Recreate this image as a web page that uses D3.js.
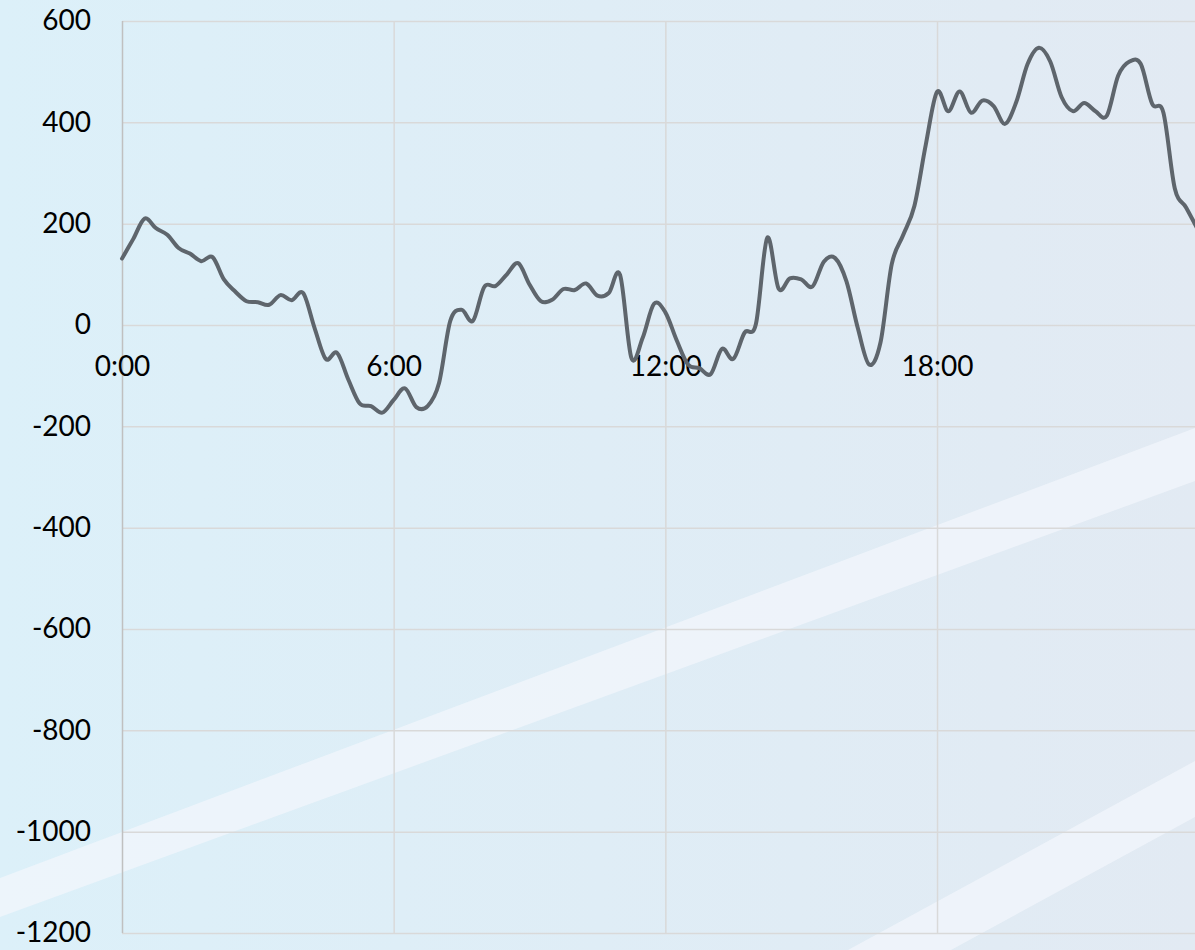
<!DOCTYPE html>
<html>
<head>
<meta charset="utf-8">
<script src="https://cdn.jsdelivr.net/npm/d3@7"></script>
<style>
  html, body { margin: 0; padding: 0; overflow: hidden; background: #dff0f9; }
  svg { display: block; }
  text { font-family: Lato, "Open Sans", sans-serif; }
</style>
</head>
<body>
<svg id="chart" width="1195" height="950"></svg>
<script>
// ---- data (15-minute readings, starting 0:00) ----
const stepHours = 0.25;
const values = [
  131, 170, 210, 191, 178, 152, 141, 126, 134, 90, 66, 47,
  45, 40, 59, 49, 63, -5, -67, -55, -108, -155, -160, -173,
  -148, -125, -162, -160, -115, 8, 30, 8, 75, 77, 100, 122,
  80, 47, 50, 71, 69, 82, 58, 63, 99, -65, -25, 42,
  25, -30, -78, -85, -97, -47, -67, -15, 2, 172, 72, 92,
  90, 76, 125, 132, 86, -6, -78, -35, 120, 177, 235, 355,
  460, 422, 461, 419, 443, 432, 397, 440, 515, 547, 520, 450,
  422, 438, 422, 413, 492, 520, 515, 437, 419, 270, 232, 190
];
const yTickValues = [-1200, -1000, -800, -600, -400, -200, 0, 200, 400, 600];
const yTickLabels = ["-1200", "-1000", "-800", "-600", "-400", "-200", "0", "200", "400", "600"];
const xTickHours = [0, 6, 12, 18];
const xTickLabels = ["0:00", "6:00", "12:00", "18:00"];
const xGridHours = [0, 6, 12, 18, 24];

// ---- layout ----
const W = 1195, H = 950;
const plot = { left: 122, top: 21, right: 1208.7, bottom: 933 };

const svg = d3.select("#chart");

// background
const defs = svg.append("defs");
const grad = defs.append("linearGradient").attr("id", "bg")
  .attr("x1", "0").attr("y1", "0").attr("x2", "1").attr("y2", "0");
grad.append("stop").attr("offset", "0").attr("stop-color", "#dcf0f9");
grad.append("stop").attr("offset", "1").attr("stop-color", "#e2eaf3");
svg.append("rect").attr("width", W).attr("height", H).attr("fill", "url(#bg)");

// decorative light bands
const bands = [
  [[0, 878], [1195, 428], [1195, 481], [0, 917]],
  [[848, 950], [1195, 761], [1195, 817], [951, 950]]
];
svg.selectAll("polygon.band").data(bands).enter().append("polygon")
  .attr("class", "band")
  .attr("points", d => d.map(p => p.join(",")).join(" "))
  .attr("fill", "#f4f7fc").attr("opacity", 0.7);

// scales
const x = d3.scaleLinear().domain([0, 24]).range([plot.left, plot.right]);
const y = d3.scaleLinear().domain([-1200, 600]).range([plot.bottom, plot.top]);

// horizontal gridlines + y labels
const yAxis = svg.append("g")
  .attr("transform", `translate(${plot.left},0)`)
  .call(d3.axisLeft(y).tickValues(yTickValues).tickSize(-(plot.right - plot.left)).tickPadding(31)
    .tickFormat((d, i) => yTickLabels[i]));
yAxis.select(".domain").remove();
yAxis.selectAll(".tick line").attr("stroke", "#d9d9d9").attr("stroke-width", 1.5);
yAxis.selectAll(".tick text").attr("fill", "#000").style("font-size", "28px");

// vertical gridlines
const xGrid = svg.append("g")
  .attr("transform", `translate(0,${plot.bottom})`)
  .call(d3.axisBottom(x).tickValues(xGridHours).tickSize(-(plot.bottom - plot.top)).tickFormat(""));
xGrid.select(".domain").remove();
xGrid.selectAll(".tick line")
  .attr("stroke", d => d === 0 ? "#c0c0c0" : "#d9d9d9")
  .attr("stroke-width", 1.5);

// x labels at the zero line
const xAxis = svg.append("g")
  .attr("transform", `translate(0,${y(0)})`)
  .call(d3.axisBottom(x).tickValues(xTickHours).tickSize(0).tickPadding(31.5)
    .tickFormat((d, i) => xTickLabels[i]));
xAxis.select(".domain").remove();
xAxis.selectAll(".tick text").attr("fill", "#000").style("font-size", "28px");

// line
const line = d3.line()
  .x((d, i) => x(i * stepHours))
  .y(d => y(d))
  .curve(d3.curveCardinal.tension(0));
svg.append("path").datum(values)
  .attr("d", line)
  .attr("fill", "none")
  .attr("stroke", "#5e656c")
  .attr("stroke-width", 4)
  .attr("stroke-linejoin", "round")
  .attr("stroke-linecap", "round");
</script>
</body>
</html>
